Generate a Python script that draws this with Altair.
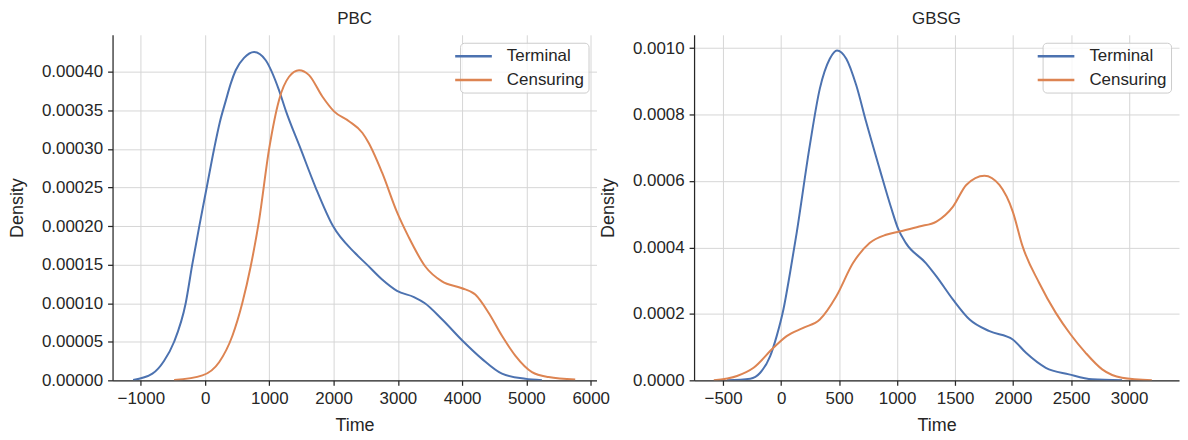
import altair as alt
import pandas as pd

series_names = ["Terminal", "Censuring"]
series_colors = ["#4C72B0", "#DD8452"]

# PBC panel
pbc_terminal_time = [-1120, -820, -640, -482, -302, -200, -90, 25, 140, 230, 320, 400, 476, 606, 762,
                     943, 1151, 1254, 1487, 1720, 1990, 2337, 2519, 2750, 2986, 3250, 3420, 3686, 4022,
                     4308, 4619, 4981, 5241]
pbc_terminal_density = [0.0000005, 0.0000086, 0.000025, 0.00005, 0.0001, 0.00015, 0.0002, 0.00025,
                        0.0003, 0.000335, 0.000362, 0.000385, 0.000402, 0.000418, 0.0004257, 0.000415,
                        0.000376, 0.00035, 0.0003, 0.00025, 0.0002, 0.0001647, 0.00015, 0.000131,
                        0.000116, 0.000108, 0.0001, 0.0000792, 0.00005, 0.0000278, 0.0000086, 0.000002,
                        0.0000002]
pbc_censuring_time = [-482, -42, 218, 425, 580, 709, 840, 995, 1151, 1306, 1462, 1617, 1824, 2006,
                      2239, 2446, 2544, 2753, 2986, 3166, 3426, 3686, 3986, 4204, 4411, 4619, 4826,
                      5086, 5344, 5759]
pbc_censuring_density = [0.0000003, 0.0000064, 0.0000235, 0.0000578, 0.0001005, 0.0001476, 0.0002075,
                         0.0002994, 0.0003636, 0.0003936, 0.000402, 0.0003957, 0.000368, 0.0003487,
                         0.0003359, 0.000321, 0.000308, 0.0002695, 0.000218, 0.000186, 0.0001476,
                         0.0001283, 0.0001197, 0.0001112, 0.0000877, 0.0000578, 0.0000321, 0.0000107,
                         0.0000042, 0.000001]

# GBSG panel
gbsg_terminal_time = [-466, -266, -180, -94, -38, 20, 77, 134, 248, 334, 420, 482, 562, 648, 733, 848,
                      948, 1010, 1076, 1248, 1339, 1482, 1625, 1796, 1997, 2111, 2282, 2482, 2682, 2939]
gbsg_terminal_density = [0.0, 0.0000048, 0.0000228, 0.0000729, 0.000133, 0.000213, 0.000323, 0.000443,
                         0.000708, 0.000878, 0.000968, 0.000993, 0.000968, 0.000888, 0.000778, 0.000638,
                         0.000520, 0.000455, 0.000413, 0.000353, 0.000313, 0.000243, 0.000183, 0.000148,
                         0.000123, 0.0000828, 0.0000378, 0.000018, 0.000003, 0.0]
gbsg_censuring_time = [-580, -380, -237, -66, 48, 191, 334, 476, 620, 763, 905, 1020, 1191, 1339, 1482,
                       1596, 1753, 1882, 1997, 2082, 2225, 2368, 2496, 2625, 2768, 2939, 3196]
gbsg_censuring_density = [0.0, 0.000013, 0.0000378, 0.0000978, 0.000133, 0.000158, 0.000183, 0.000253,
                          0.000353, 0.000413, 0.000438, 0.000448, 0.000463, 0.000478, 0.000523, 0.000588,
                          0.000616, 0.000588, 0.000508, 0.000403, 0.000293, 0.000203, 0.000138,
                          0.0000828, 0.000033, 0.0000078, 0.0]

pbc_x_ticks = [-1000, 0, 1000, 2000, 3000, 4000, 5000, 6000]
pbc_y_ticks = [0.0, 0.00005, 0.0001, 0.00015, 0.0002, 0.00025, 0.0003, 0.00035, 0.0004]
gbsg_x_ticks = [-500, 0, 500, 1000, 1500, 2000, 2500, 3000]
gbsg_y_ticks = [0.0, 0.0002, 0.0004, 0.0006, 0.0008, 0.001]

FONT = "Liberation Sans"
TXT = "#262626"


def panel(title, t_time, t_dens, c_time, c_dens, xdom, ydom, xticks, yticks, yfmt, w, h):
    df = pd.DataFrame({
        "Time": t_time + c_time,
        "Density": t_dens + c_dens,
        "Series": ["Terminal"] * len(t_time) + ["Censuring"] * len(c_time),
    })
    return alt.Chart(df).mark_line(strokeWidth=2, interpolate="monotone", clip=True).encode(
        x=alt.X("Time:Q", scale=alt.Scale(domain=xdom, nice=False, zero=False),
                axis=alt.Axis(values=xticks, format="d", title="Time")),
        y=alt.Y("Density:Q", scale=alt.Scale(domain=ydom, nice=False, zero=False),
                axis=alt.Axis(values=yticks, format=yfmt, title="Density")),
        color=alt.Color("Series:N", sort=series_names,
                        scale=alt.Scale(domain=series_names, range=series_colors),
                        legend=alt.Legend(title=None, orient="top-right", offset=8,
                                          symbolType="M-2.3,0H2.3", symbolSize=256,
                                          symbolStrokeWidth=2.5,
                                          labelFont=FONT, labelFontSize=17, labelColor=TXT,
                                          labelOffset=24, rowPadding=6, padding=4,
                                          fillColor="rgba(255,255,255,0.8)", strokeColor="#cccccc",
                                          cornerRadius=4)),
    ).properties(width=w, height=h, title=title)


left = panel("PBC", pbc_terminal_time, pbc_terminal_density, pbc_censuring_time, pbc_censuring_density,
             [-1440, 6090], [0, 0.000448], pbc_x_ticks, pbc_y_ticks, ".5f", 486, 347)
right = panel("GBSG", gbsg_terminal_time, gbsg_terminal_density, gbsg_censuring_time,
              gbsg_censuring_density, [-750, 3430], [0, 0.00104], gbsg_x_ticks, gbsg_y_ticks, ".4f",
              487, 347)

chart = alt.hconcat(left, right, spacing=98, bounds="flush").resolve_scale(
    color="independent"
).resolve_legend(color="independent").properties(
    padding={"left": 0, "top": 0, "right": 0, "bottom": 0}
).configure_view(stroke="transparent").configure_axis(
    labelFont=FONT, labelFontSize=17, labelColor=TXT,
    titleFont=FONT, titleFontSize=18, titleFontWeight="normal", titleColor=TXT,
    domainColor=TXT, domainWidth=1.25, tickColor=TXT, tickWidth=1.25, tickSize=5,
    gridColor="#d6d6d6", gridWidth=1,
).configure_axisX(titlePadding=10, labelPadding=5).configure_axisY(
    titlePadding=15, labelPadding=5
).configure_title(
    font=FONT, fontSize=17, fontWeight="normal", color=TXT, anchor="middle", offset=7
)

chart.save("out.html", embed_options={"renderer": "svg", "actions": False})
